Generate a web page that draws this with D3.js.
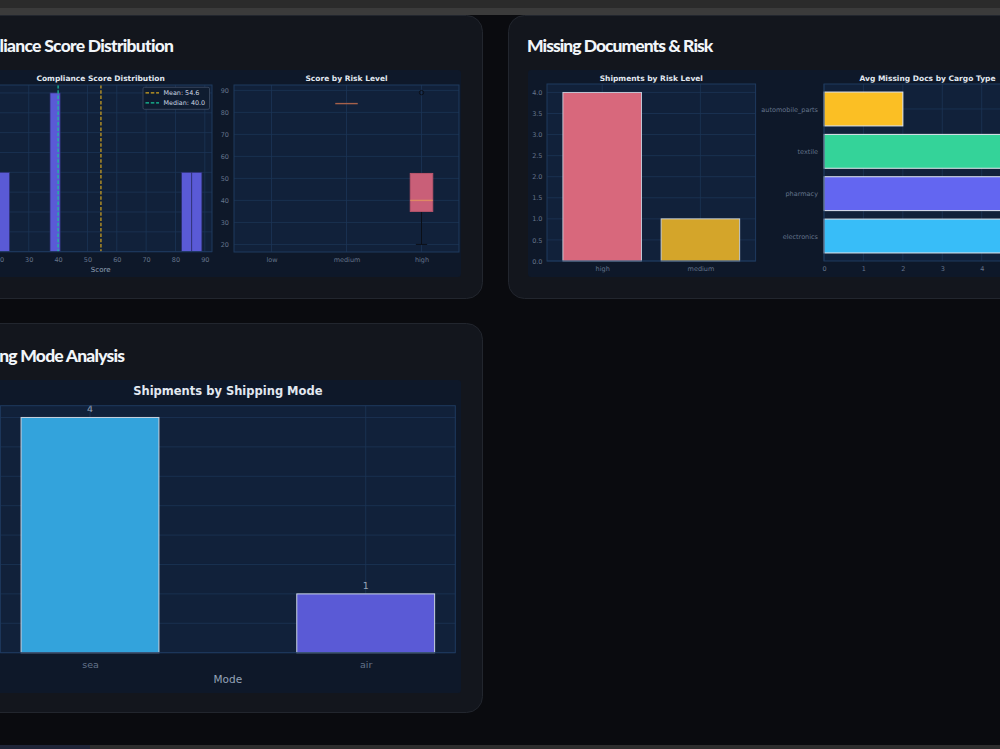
<!DOCTYPE html>
<html><head><meta charset="utf-8">
<script src="https://cdn.jsdelivr.net/npm/d3@7"></script>
<style>html,body{margin:0;padding:0;background:#0a0b0f;overflow:hidden;} svg{display:block}</style>
</head><body>
<svg id="c" width="1000" height="749"></svg>
<script>
// ---------- data ----------
const complianceScores = [20, 40, 40, 84, 89];
const scoreTicks = [20, 30, 40, 50, 60, 70, 80, 90];
const riskLevels = ["low", "medium", "high"];
const lowRiskScores = [];
const mediumRiskScores = [84];
const highRiskScores = [20, 40, 40, 89];
const riskBarLabels = ["high", "medium"];
const riskBarCounts = [4, 1];
const riskBarColors = ["#d8687c", "#d4a52a"];
const cargoTypes = ["electronics", "pharmacy", "textile", "automobile_parts"];
const avgMissingDocs = [5, 5, 5, 2];
const cargoColors = ["#38bdf8", "#6366f1", "#34d399", "#fbbf24"];
const cargoTicks = [0, 1, 2, 3, 4, 5];
const shippingModes = ["sea", "air"];
const modeCounts = [4, 1];
const modeColors = ["#33a3dc", "#5a5ad6"];
const cardTitles = ["Compliance Score Distribution", "Missing Documents & Risk", "Shipping Mode Analysis"];

// ---------- style ----------
const FIG_BG = "#0e1829", AX_BG = "#11213a", GRID = "#1c3556", SPINE = "#1e3a5f";
const TICK = "#64748b", TITLE = "#e2e8f0", FONT = "DejaVu Sans";

const svg = d3.select("#c");
svg.append("rect").attr("width", 1000).attr("height", 749).attr("fill", "#0a0b0f");

// cards
const cards = [
  {x: -56, y: 15, w: 538, h: 283},
  {x: 508, y: 15, w: 538, h: 283},
  {x: -56, y: 323, w: 538, h: 389}
];
svg.selectAll("rect.card").data(cards).join("rect").attr("class", "card")
  .attr("x", d => d.x + 0.5).attr("y", d => d.y + 0.5).attr("width", d => d.w).attr("height", d => d.h)
  .attr("rx", 16).attr("fill", "#13161d").attr("stroke", "#22262e");

// top / bottom browser strips
svg.append("rect").attr("x", 0).attr("y", 0).attr("width", 1000).attr("height", 8).attr("fill", "#2b2b2b");
svg.append("rect").attr("x", 0).attr("y", 8).attr("width", 1000).attr("height", 7).attr("fill", "#3b3b3b");
svg.append("rect").attr("x", 0).attr("y", 745).attr("width", 1000).attr("height", 4).attr("fill", "#2e2e2e");
svg.append("rect").attr("x", 0).attr("y", 745).attr("width", 90).attr("height", 4).attr("fill", "#1f2538");

// card titles: visible part of each title is fitted to the span seen in the reference
const titleSpecs = [
  {x0: 0, x1: 174, y: 52.3, visible: "liance Score Distribution"},
  {x0: 528, x1: 713.3, y: 52.3, visible: "Missing Documents & Risk"},
  {x0: 0, x1: 125, y: 362.3, visible: "ng Mode Analysis"}
];
const titleFont = t => t.attr("font-family", "Lato").attr("font-weight", 900).attr("font-size", 17.5);
const probe = svg.append("text").call(titleFont);
cardTitles.forEach((t, i) => {
  const s = titleSpecs[i];
  probe.text(s.visible);
  const nat = probe.node().getComputedTextLength();
  const ls = ((s.x1 - s.x0) - nat) / s.visible.length;
  svg.append("text").call(titleFont).attr("text-anchor", "end").attr("fill", "#f1f5f9")
    .attr("letter-spacing", ls)
    .attr("x", s.x1 + ls).attr("y", s.y).text(t);
});
probe.remove();

// figure backgrounds
const figs = [
  {x: -36, y: 70, w: 497, h: 207},
  {x: 528, y: 70, w: 500, h: 207},
  {x: -36, y: 380, w: 497, h: 313}
];
svg.selectAll("rect.fig").data(figs).join("rect").attr("class", "fig")
  .attr("x", d => d.x).attr("y", d => d.y).attr("width", d => d.w).attr("height", d => d.h)
  .attr("rx", 3).attr("fill", FIG_BG);

// ---------- helpers ----------
function axesBox(ax) {
  return svg.append("rect").attr("x", ax.l).attr("y", ax.t).attr("width", ax.r - ax.l).attr("height", ax.b - ax.t)
    .attr("fill", AX_BG);
}
function spines(ax) {
  svg.append("rect").attr("x", ax.l).attr("y", ax.t).attr("width", ax.r - ax.l).attr("height", ax.b - ax.t)
    .attr("fill", "none").attr("stroke", SPINE).attr("stroke-width", 1);
}
function gridX(x, vals, ax) {
  svg.append("g").selectAll("line").data(vals).join("line")
    .attr("x1", d => x(d)).attr("x2", d => x(d)).attr("y1", ax.t).attr("y2", ax.b)
    .attr("stroke", GRID).attr("stroke-width", 0.8);
}
function gridY(y, vals, ax) {
  svg.append("g").selectAll("line").data(vals).join("line")
    .attr("y1", d => y(d)).attr("y2", d => y(d)).attr("x1", ax.l).attr("x2", ax.r)
    .attr("stroke", GRID).attr("stroke-width", 0.8);
}
function styleAxis(g, size) {
  g.select(".domain").remove();
  g.selectAll("line").remove();
  g.selectAll("text").attr("fill", TICK).attr("font-family", FONT).attr("font-size", size);
}
function subTitle(txt, x, y, size) {
  svg.append("text").attr("x", x).attr("y", y).attr("text-anchor", "middle")
    .attr("font-family", FONT).attr("font-weight", "bold").attr("font-size", size)
    .attr("fill", TITLE).text(txt);
}

// ---------- Panel A: histogram ----------
{
  const ax = {l: -10.7, r: 212, t: 85, b: 251.7};
  const lo = d3.min(complianceScores), hi = d3.max(complianceScores);
  const nb = 20, bw = (hi - lo) / nb, pad = (hi - lo) * 0.05;
  const bins = d3.bin().domain([lo, hi]).thresholds(d3.range(1, nb).map(i => lo + i * bw))(complianceScores);
  const maxC = d3.max(bins, b => b.length);
  const x = d3.scaleLinear([lo - pad, hi + pad], [ax.l, ax.r]);
  const y = d3.scaleLinear([0, maxC * 1.05], [ax.b, ax.t]);
  axesBox(ax);
  gridX(x, scoreTicks, ax);
  gridY(y, d3.range(0, maxC + 0.001, 0.25), ax);
  svg.append("g").selectAll("rect").data(bins.filter(b => b.length)).join("rect")
    .attr("x", b => x(b.x0)).attr("width", b => x(b.x1) - x(b.x0))
    .attr("y", b => y(b.length)).attr("height", b => y(0) - y(b.length))
    .attr("fill", "#5a5ad6").attr("stroke", "#2c2f6e").attr("stroke-width", 0.7);
  const mean = d3.mean(complianceScores), med = d3.median(complianceScores);
  const vlines = [{v: mean, c: "#d4a520", l: `Mean: ${mean.toFixed(1)}`}, {v: med, c: "#19c59a", l: `Median: ${med.toFixed(1)}`}];
  svg.append("g").selectAll("line").data(vlines).join("line")
    .attr("x1", d => x(d.v)).attr("x2", d => x(d.v)).attr("y1", ax.t).attr("y2", ax.b)
    .attr("stroke", d => d.c).attr("stroke-width", 1.2).attr("stroke-dasharray", "3.5,1.8");
  spines(ax);
  const gx = svg.append("g").attr("transform", `translate(0,${ax.b})`)
    .call(d3.axisBottom(x).tickValues(scoreTicks).tickSize(0).tickPadding(5.5));
  styleAxis(gx, 6.5);
  const gy = svg.append("g").attr("transform", `translate(${ax.l},0)`)
    .call(d3.axisLeft(y).tickValues(d3.range(0, maxC + 0.001, 0.25)).tickFormat(d3.format(".2f")).tickSize(0).tickPadding(4));
  styleAxis(gy, 6.5);
  svg.append("text").attr("x", (ax.l + ax.r) / 2).attr("y", 271.8).attr("text-anchor", "middle")
    .attr("font-family", FONT).attr("font-size", 7).attr("fill", "#94a3b8").text("Score");
  subTitle("Compliance Score Distribution", (ax.l + ax.r) / 2, 80.6, 7.5);
  // legend
  const lg = svg.append("g");
  lg.append("rect").attr("x", 143).attr("y", 87.3).attr("width", 66.5).attr("height", 22).attr("rx", 1.5)
    .attr("fill", "#0f1c30").attr("stroke", "#3f4d63").attr("stroke-width", 0.8);
  vlines.forEach((d, i) => {
    const yy = 92.8 + i * 10;
    lg.append("line").attr("x1", 145.5).attr("x2", 159).attr("y1", yy).attr("y2", yy)
      .attr("stroke", d.c).attr("stroke-width", 1.2).attr("stroke-dasharray", "3.5,1.8");
    lg.append("text").attr("x", 163.5).attr("y", yy + 2.3).attr("font-family", FONT).attr("font-size", 6.4)
      .attr("fill", "#cbd5e1").text(d.l);
  });
}

// ---------- Panel B: boxplot ----------
{
  const ax = {l: 234, r: 459, t: 85, b: 252};
  const lo = d3.min(complianceScores), hi = d3.max(complianceScores), pad = (hi - lo) * 0.05;
  const x = d3.scaleLinear([0.5, riskLevels.length + 0.5], [ax.l, ax.r]);
  const y = d3.scaleLinear([lo - pad, hi + pad], [ax.b, ax.t]);
  const groups = [lowRiskScores, mediumRiskScores, highRiskScores];
  axesBox(ax);
  gridX(x, riskLevels.map((d, i) => i + 1), ax);
  gridY(y, scoreTicks, ax);
  const hw = 0.15;
  groups.forEach((vals, i) => {
    if (!vals.length) return;
    const s = vals.slice().sort(d3.ascending);
    const q1 = d3.quantile(s, 0.25), q2 = d3.quantile(s, 0.5), q3 = d3.quantile(s, 0.75), iqr = q3 - q1;
    const inside = s.filter(v => v >= q1 - 1.5 * iqr && v <= q3 + 1.5 * iqr);
    const wlo = Math.min(d3.min(inside), q1), whi = Math.max(d3.max(inside), q3);
    const out = s.filter(v => v < q1 - 1.5 * iqr || v > q3 + 1.5 * iqr);
    const pos = i + 1, g = svg.append("g");
    const c = x(pos);
    if (iqr > 0) {
      g.append("line").attr("x1", c).attr("x2", c).attr("y1", y(q1)).attr("y2", y(wlo)).attr("stroke", "#0b0f17").attr("stroke-width", 1);
      g.append("line").attr("x1", c).attr("x2", c).attr("y1", y(q3)).attr("y2", y(whi)).attr("stroke", "#0b0f17").attr("stroke-width", 1);
      [wlo, whi].forEach(v => g.append("line").attr("x1", x(pos - hw / 2)).attr("x2", x(pos + hw / 2))
        .attr("y1", y(v)).attr("y2", y(v)).attr("stroke", "#0b0f17").attr("stroke-width", 1));
      g.append("rect").attr("x", x(pos - hw)).attr("width", x(pos + hw) - x(pos - hw))
        .attr("y", y(q3)).attr("height", y(q1) - y(q3))
        .attr("fill", "#c95f78").attr("stroke", "#b8556c").attr("stroke-width", 1);
    }
    g.append("line").attr("x1", x(pos - hw)).attr("x2", x(pos + hw)).attr("y1", y(q2)).attr("y2", y(q2))
      .attr("stroke", iqr > 0 ? "#de8a64" : "#a6614a").attr("stroke-width", 1.4);
    g.selectAll("circle").data(out).join("circle").attr("cx", c).attr("cy", v => y(v)).attr("r", 2.2)
      .attr("fill", "none").attr("stroke", "#0b0f17").attr("stroke-width", 0.9);
  });
  spines(ax);
  const gx = svg.append("g").attr("transform", `translate(0,${ax.b})`)
    .call(d3.axisBottom(x).tickValues(riskLevels.map((d, i) => i + 1)).tickFormat((d, i) => riskLevels[i]).tickSize(0).tickPadding(5));
  styleAxis(gx, 6.5);
  const gy = svg.append("g").attr("transform", `translate(${ax.l},0)`)
    .call(d3.axisLeft(y).tickValues(scoreTicks).tickSize(0).tickPadding(5));
  styleAxis(gy, 6.5);
  subTitle("Score by Risk Level", (ax.l + ax.r) / 2, 80.6, 7.5);
}

// ---------- Panel C: shipments by risk ----------
{
  const ax = {l: 547, r: 755.6, t: 84, b: 261};
  const n = riskBarLabels.length;
  const x = d3.scaleLinear([-0.4 - 0.09 * (n - 0.2), n - 0.6 + 0.09 * (n - 0.2)], [ax.l, ax.r]);
  const maxV = d3.max(riskBarCounts);
  const y = d3.scaleLinear([0, maxV * 1.05], [ax.b, ax.t]);
  const yt = d3.range(0, maxV + 0.001, 0.5);
  axesBox(ax);
  gridX(x, d3.range(n), ax);
  gridY(y, yt, ax);
  svg.append("g").selectAll("rect").data(riskBarCounts).join("rect")
    .attr("x", (d, i) => x(i - 0.4)).attr("width", (d, i) => x(i + 0.4) - x(i - 0.4))
    .attr("y", d => y(d)).attr("height", d => y(0) - y(d))
    .attr("fill", (d, i) => riskBarColors[i]).attr("stroke", "#c9d3e0").attr("stroke-width", 0.9);
  spines(ax);
  const gx = svg.append("g").attr("transform", `translate(0,${ax.b})`)
    .call(d3.axisBottom(x).tickValues(d3.range(n)).tickFormat(i => riskBarLabels[i]).tickSize(0).tickPadding(5));
  styleAxis(gx, 6.5);
  const gy = svg.append("g").attr("transform", `translate(${ax.l},0)`)
    .call(d3.axisLeft(y).tickValues(yt).tickFormat(d3.format(".1f")).tickSize(0).tickPadding(4.5));
  styleAxis(gy, 6.5);
  subTitle("Shipments by Risk Level", (ax.l + ax.r) / 2, 80.6, 7.5);
}

// ---------- Panel D: avg missing docs ----------
{
  const ax = {l: 824, r: 1031, t: 84, b: 261};
  const n = cargoTypes.length;
  const maxV = d3.max(avgMissingDocs);
  const x = d3.scaleLinear([0, maxV * 1.05], [ax.l, ax.r]);
  const m = 0.05 * (n - 0.2);
  const y = d3.scaleLinear([-0.4 - m, n - 0.6 + m], [ax.b, ax.t]);
  axesBox(ax);
  gridX(x, cargoTicks, ax);
  gridY(y, d3.range(n), ax);
  svg.append("g").selectAll("rect").data(avgMissingDocs).join("rect")
    .attr("x", x(0)).attr("width", d => x(d) - x(0))
    .attr("y", (d, i) => y(i + 0.4)).attr("height", (d, i) => y(i - 0.4) - y(i + 0.4))
    .attr("fill", (d, i) => cargoColors[i]).attr("stroke", "#e2e8f0").attr("stroke-width", 1);
  spines(ax);
  const gx = svg.append("g").attr("transform", `translate(0,${ax.b})`)
    .call(d3.axisBottom(x).tickValues(cargoTicks).tickFormat(d3.format("d")).tickSize(0).tickPadding(5));
  styleAxis(gx, 6.5);
  const gy = svg.append("g").attr("transform", `translate(${ax.l},0)`)
    .call(d3.axisLeft(y).tickValues(d3.range(n)).tickFormat(i => cargoTypes[i]).tickSize(0).tickPadding(6));
  styleAxis(gy, 6.5);
  subTitle("Avg Missing Docs by Cargo Type", (ax.l + ax.r) / 2, 80.6, 7.5);
}

// ---------- Panel E: shipping mode ----------
{
  const ax = {l: 0.4, r: 455.3, t: 405.7, b: 652.7};
  const n = shippingModes.length;
  const m = 0.05 * (n - 0.5);
  const x = d3.scaleLinear([-0.25 - m, n - 0.75 + m], [ax.l, ax.r]);
  const maxV = d3.max(modeCounts);
  const y = d3.scaleLinear([0, maxV * 1.05], [ax.b, ax.t]);
  const yt = d3.range(0, maxV + 0.001, 0.5);
  axesBox(ax);
  gridX(x, d3.range(n), ax);
  gridY(y, yt, ax);
  svg.append("g").selectAll("rect").data(modeCounts).join("rect")
    .attr("x", (d, i) => x(i - 0.25)).attr("width", (d, i) => x(i + 0.25) - x(i - 0.25))
    .attr("y", d => y(d)).attr("height", d => y(0) - y(d))
    .attr("fill", (d, i) => modeColors[i]).attr("stroke", "#c9d3e0").attr("stroke-width", 1);
  svg.append("g").selectAll("text").data(modeCounts).join("text")
    .attr("x", (d, i) => x(i)).attr("y", d => y(d) - 5.3).attr("text-anchor", "middle")
    .attr("font-family", FONT).attr("font-size", 9.5).attr("fill", "#94a3b8").text(d => d);
  spines(ax);
  const gx = svg.append("g").attr("transform", `translate(0,${ax.b})`)
    .call(d3.axisBottom(x).tickValues(d3.range(n)).tickFormat(i => shippingModes[i]).tickSize(0).tickPadding(9));
  styleAxis(gx, 9.5);
  const gy = svg.append("g").attr("transform", `translate(${ax.l},0)`)
    .call(d3.axisLeft(y).tickValues(yt).tickFormat(d3.format(".1f")).tickSize(0).tickPadding(6));
  styleAxis(gy, 9.5);
  svg.append("text").attr("x", (ax.l + ax.r) / 2).attr("y", 683).attr("text-anchor", "middle")
    .attr("font-family", FONT).attr("font-size", 10.5).attr("fill", "#94a3b8").text("Mode");
  subTitle("Shipments by Shipping Mode", (ax.l + ax.r) / 2, 394.5, 11.5);
}
</script>
</body></html>
